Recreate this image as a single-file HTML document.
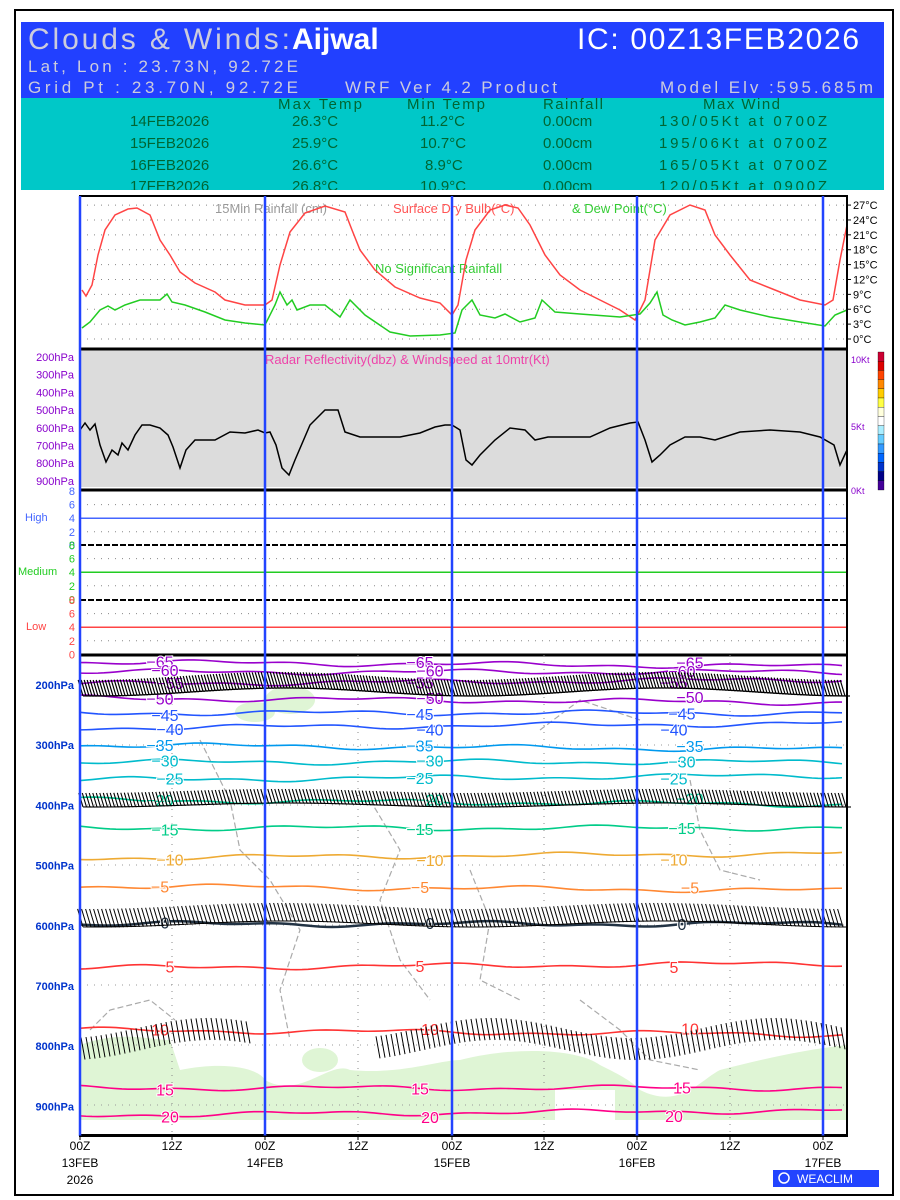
<!DOCTYPE html>
<html><head><meta charset="utf-8"><style>
body{margin:0;background:#fff;width:900px;height:1200px;overflow:hidden}
svg{display:block}
text{font-family:"Liberation Sans",sans-serif}
</style></head><body>
<svg id="s" width="900" height="1200" xmlns="http://www.w3.org/2000/svg">
<rect x="0" y="0" width="900" height="1200" fill="#fff"/>
<rect x="15" y="10" width="878" height="1185" fill="none" stroke="#000" stroke-width="2"/>
<rect x="21" y="22" width="863" height="76" fill="#2240ff"/>
<rect x="21" y="98" width="863" height="92" fill="#00c8c8"/>
<text x="28" y="49" font-family="Liberation Serif" font-size="30" fill="#ccd" textLength="262">Clouds &amp; Winds:</text>
<text x="292" y="49" font-family="Liberation Serif" font-size="30" fill="#fff" font-weight="bold">Aijwal</text>
<text x="577" y="49" font-size="30" fill="#fff" textLength="282">IC: 00Z13FEB2026</text>
<text x="28" y="72" font-size="17" fill="#ccd" textLength="270">Lat, Lon : 23.73N, 92.72E</text>
<text x="28" y="93" font-size="17" fill="#ccd" textLength="270">Grid Pt  : 23.70N, 92.72E</text>
<text x="345" y="93" font-size="17" fill="#ccd" textLength="212">WRF Ver 4.2 Product</text>
<text x="660" y="93" font-size="17" fill="#ccd" textLength="213">Model Elv :595.685m</text>
<g font-size="15" fill="#063">
<text x="278" y="109" textLength="84">Max Temp</text><text x="407" y="109" textLength="78">Min Temp</text><text x="543" y="109" textLength="60">Rainfall</text><text x="703" y="109" textLength="77">Max Wind</text>
<text x="130" y="126">14FEB2026</text><text x="292" y="126">26.3°C</text><text x="420" y="126">11.2°C</text><text x="543" y="126">0.00cm</text><text x="659" y="126" textLength="168">130/05Kt at 0700Z</text>
<text x="130" y="148">15FEB2026</text><text x="292" y="148">25.9°C</text><text x="420" y="148">10.7°C</text><text x="543" y="148">0.00cm</text><text x="659" y="148" textLength="168">195/06Kt at 0700Z</text>
<text x="130" y="170">16FEB2026</text><text x="292" y="170">26.6°C</text><text x="425" y="170">8.9°C</text><text x="543" y="170">0.00cm</text><text x="659" y="170" textLength="168">165/05Kt at 0700Z</text>
<text x="130" y="191">17FEB2026</text><text x="292" y="191">26.8°C</text><text x="420" y="191">10.9°C</text><text x="543" y="191">0.00cm</text><text x="659" y="191" textLength="168">120/05Kt at 0900Z</text>
</g>
<rect x="21" y="190" width="863" height="3" fill="#fff"/>
<g id="g"></g>
</svg>
<script>
const g=document.getElementById('g');const NS='http://www.w3.org/2000/svg';
function el(t,a,txt){const e=document.createElementNS(NS,t);for(const k in a)e.setAttribute(k,a[k]);if(txt!=null)e.textContent=txt;g.appendChild(e);return e;}
function pl(pts,c,w,extra){const a={points:pts.map(p=>p.join(',')).join(' '),fill:'none',stroke:c,'stroke-width':w||1.5};Object.assign(a,extra||{});return el('polyline',a);}
const L=80,R=847;
for(let T=0;T<=27;T+=3){const y=339-T*4.96;el('line',{x1:L,x2:R,y1:y,y2:y,stroke:'#888','stroke-dasharray':'1 6'});el('line',{x1:R,x2:R+4,y1:y,y2:y,stroke:'#000'});el('text',{x:853,y:y+4,'font-size':11},T+'°C');}
el('text',{x:215,y:213,'font-size':13,fill:'#999'},'15Min Rainfall (cm)');
el('text',{x:393,y:213,'font-size':13,fill:'#f55'},'Surface Dry Bulb(°C)');
el('text',{x:572,y:213,'font-size':13,fill:'#3c3'},'& Dew Point(°C)');
el('text',{x:375,y:273,'font-size':13,fill:'#3c3'},'No Significant Rainfall');
pl([[82,290],[86,296],[92,285],[98,255],[105,230],[115,215],[128,209],[137,208],[150,215],[160,240],[170,255],[180,272],[195,283],[215,292],[225,300],[245,305],[265,305],[272,300],[280,265],[290,232],[305,213],[325,206],[345,212],[352,230],[360,250],[375,270],[395,287],[420,298],[440,303],[452,315],[458,305],[466,260],[475,230],[490,210],[505,205],[518,208],[530,225],[545,255],[560,275],[580,290],[600,300],[620,310],[635,320],[645,300],[655,240],[670,215],[690,205],[705,210],[715,235],[730,255],[750,280],[775,290],[800,300],[825,305],[833,300],[840,260],[847,225]],'#f44',1.5);
pl([[82,328],[90,322],[100,310],[108,306],[115,310],[125,305],[140,300],[160,300],[167,294],[172,302],[185,305],[205,312],[225,320],[245,323],[265,325],[275,305],[280,292],[287,305],[292,300],[297,310],[310,305],[325,305],[340,317],[350,300],[365,315],[390,332],[410,336],[440,335],[455,333],[462,310],[472,300],[480,315],[495,318],[505,314],[520,322],[535,318],[542,300],[555,312],[580,314],[620,317],[640,314],[650,303],[657,292],[663,315],[672,320],[685,325],[700,322],[715,318],[725,305],[740,310],[770,317],[800,322],[825,326],[835,315],[847,310]],'#2c2',1.5);
el('rect',{x:L,y:350,width:R-L,height:137,fill:'#dcdcdc'});
el('text',{x:265,y:364,'font-size':13,fill:'#e4a'},'Radar Reflectivity(dbz) & Windspeed at 10mtr(Kt)');
['200hPa','300hPa','400hPa','500hPa','600hPa','700hPa','800hPa','900hPa'].forEach((t,i)=>{const y=361+i*17.7;el('text',{x:74,y:y,'font-size':11,fill:'#80c','text-anchor':'end'},t);});
[['10Kt',363],['5Kt',430],['0Kt',494]].forEach(a=>el('text',{x:851,y:a[1],'font-size':9,fill:'#80c'},a[0]));
const cb=['#c03','#d00','#f40','#f80','#fc0','#ff4','#ffd','#fff','#aef','#6cf','#39f','#06f','#03c','#008','#409'];
cb.forEach((c,i)=>el('rect',{x:878,y:352+i*9.2,width:6,height:9.2,fill:c,stroke:'#000','stroke-width':0.3}));
pl([[80,430],[85,423],[90,430],[95,424],[100,445],[106,462],[112,450],[118,455],[122,443],[128,450],[135,435],[142,425],[150,425],[160,428],[168,435],[173,447],[180,468],[186,450],[195,440],[205,440],[215,440],[230,432],[245,433],[258,430],[265,433],[270,432],[276,445],[282,468],[289,475],[295,460],[310,425],[325,410],[338,410],[345,432],[360,437],[400,437],[420,433],[435,427],[445,425],[452,425],[460,430],[466,460],[472,465],[480,455],[495,440],[510,428],[525,430],[535,440],[548,437],[570,437],[590,437],[610,428],[630,423],[638,422],[645,440],[652,462],[660,455],[670,445],[685,437],[700,437],[715,440],[740,432],[770,430],[800,432],[820,437],[834,445],[840,465],[847,450]],'#000',1.5);
el('line',{x1:L,x2:R,y1:349,y2:349,stroke:'#000','stroke-width':3});
el('line',{x1:L,x2:R,y1:490,y2:490,stroke:'#000','stroke-width':3});
const secs=[[491,'#46f','High'],[545,'#2c2','Medium'],[600,'#f44','Low']];
secs.forEach((s,k)=>{const y0=s[0];for(let i=0;i<=4;i++){const y=y0+i*13.6;const v=8-2*i;el('text',{x:75,y:y+4,'font-size':11,fill:s[1],'text-anchor':'end'},v);if(i==2)el('line',{x1:L,x2:R,y1:y,y2:y,stroke:s[1],'stroke-width':1.5});else if(i>0&&i<4)el('line',{x1:L,x2:R,y1:y,y2:y,stroke:'#888','stroke-dasharray':'1 6'});}
el('text',{x:k==1?18:(k==0?25:26),y:y0+30,'font-size':11,fill:s[1]},s[2]);if(k>0)el('line',{x1:L,x2:R,y1:y0,y2:y0,stroke:'#000','stroke-width':2,'stroke-dasharray':'6 2'});});
el('line',{x1:L,x2:R,y1:655,y2:655,stroke:'#000','stroke-width':3});
// green region
el('path',{d:'M80 1045 C120 1030 150 1040 170 1040 L180 1070 C230 1060 260 1070 265 1080 C300 1100 330 1060 350 1070 C400 1075 440 1060 460 1060 C520 1045 580 1050 600 1065 C620 1075 630 1080 640 1090 C680 1110 700 1080 720 1070 C760 1060 800 1050 847 1045 L847 1120 L80 1120 Z',fill:'#dff5d5'});
el('rect',{x:555,y:1090,width:60,height:32,fill:'#fff'});
[[290,700,25,14],[320,1060,18,12],[255,712,20,10]].forEach(b=>el('ellipse',{cx:b[0],cy:b[1],rx:b[2],ry:b[3],fill:'#dff5d5'}));
[[[200,740],[230,800],[240,850],[270,880],[300,930],[280,990],[290,1040]],[[370,800],[400,850],[380,900],[400,960],[430,1000]],[[470,870],[490,920],[480,980],[520,1000]],[[540,730],[580,700],[640,720]],[[580,1000],[620,1030],[650,1060],[700,1070]],[[90,1030],[110,1010],[150,1000],[175,1020]],[[690,780],[700,830],[720,870],[760,880]]].forEach(p=>pl(p,'#aaa',1.2,{'stroke-dasharray':'6 3'}));
[172,358,544,730].forEach(x=>el('line',{x1:x,x2:x,y1:655,y2:1135,stroke:'#888','stroke-dasharray':'1 6'}));
[745,805,865,925,985,1045,1105].forEach(y=>el('line',{x1:L,x2:R,y1:y,y2:y,stroke:'#999','stroke-dasharray':'1 6'}));
const cons=[[-65,662,'#90c'],[-60,672,'#90c'],[-55,684,'#90c'],[-50,698,'#90c'],[-45,713,'#25f'],[-40,728,'#25f'],[-35,745,'#09e'],[-30,762,'#0bc'],[-25,780,'#0bc'],[-20,800,'#0c9'],[-15,828,'#0c8'],[-10,858,'#ea3'],[-5,886,'#f83'],[0,924,'#234'],[5,968,'#f33'],[10,1030,'#f33'],[15,1088,'#f08'],[20,1115,'#f08']];
cons.forEach((c,i)=>{const pts=[];for(let x=L;x<=R;x+=6){const y=c[1]+1.8*Math.sin(x/45+i)+1.2*Math.sin(x/17+i*2)-(x-L)*0.006*(i%3-1);pts.push([x,y]);}pl(pts,c[2],c[0]==0?2.5:1.6);
[160+ (i%3)*5,420+(i%2)*10,690-(i%3)*8].forEach(x=>{const y=c[1]+1.8*Math.sin(x/45+i);el('text',{x:x,y:y+6,'font-size':16,fill:c[2],'text-anchor':'middle',stroke:'#fff','stroke-width':2,'paint-order':'stroke'},c[0]==0?'0':(c[0]<0?'−'+(-c[0]):c[0]));});});
function barbs(y,len,amp,sp,w){for(let x=L+3;x<R;x+=sp){const yy=y+amp*Math.sin(x/60);el('line',{x1:x,y1:yy,x2:x-len*0.3,y2:yy-len,stroke:'#000','stroke-width':w});el('line',{x1:x,y1:yy,x2:x+5,y2:yy,stroke:'#000','stroke-width':w});}}
barbs(692,16,4,3,1.2);barbs(805,14,2,3.5,1.1);barbs(924,18,3,4,1);
for(let x=L+5;x<R;x+=5){if((x>250&&x<380))continue;const yy=1050+10*Math.sin(x/45);el('line',{x1:x,y1:yy,x2:x-4,y2:yy-22,stroke:'#000','stroke-width':1});}
['200hPa','300hPa','400hPa','500hPa','600hPa','700hPa','800hPa','900hPa'].forEach((t,i)=>el('text',{x:74,y:689+i*60.2,'font-size':11,fill:'#03c','text-anchor':'end','font-weight':'bold'},t));
el('rect',{x:L,y:196,width:R-L,height:940,fill:'none',stroke:'#000','stroke-width':2});
el('line',{x1:L,x2:R,y1:1135,y2:1135,stroke:'#000','stroke-width':2});
[80,265,452,637,823].forEach(x=>el('line',{x1:x,x2:x,y1:196,y2:1136,stroke:'#2244ff','stroke-width':2.5}));
[['00Z',80],['12Z',172],['00Z',265],['12Z',358],['00Z',452],['12Z',544],['00Z',637],['12Z',730],['00Z',823]].forEach(a=>{el('text',{x:a[1],y:1150,'font-size':12,'text-anchor':'middle'},a[0]);el('line',{x1:a[1],x2:a[1],y1:1135,y2:1140,stroke:'#000'});});
[['13FEB',80],['14FEB',265],['15FEB',452],['16FEB',637],['17FEB',823]].forEach(a=>el('text',{x:a[1],y:1167,'font-size':12,'text-anchor':'middle'},a[0]));
el('text',{x:80,y:1184,'font-size':12,'text-anchor':'middle'},'2026');
el('rect',{x:773,y:1170,width:106,height:17,fill:'#2244ff'});
el('circle',{cx:784,cy:1178,r:5,fill:'none',stroke:'#fff','stroke-width':1.5});
el('text',{x:797,y:1183,'font-size':12,fill:'#fff'},'WEACLIM');
</script>
</body></html>
